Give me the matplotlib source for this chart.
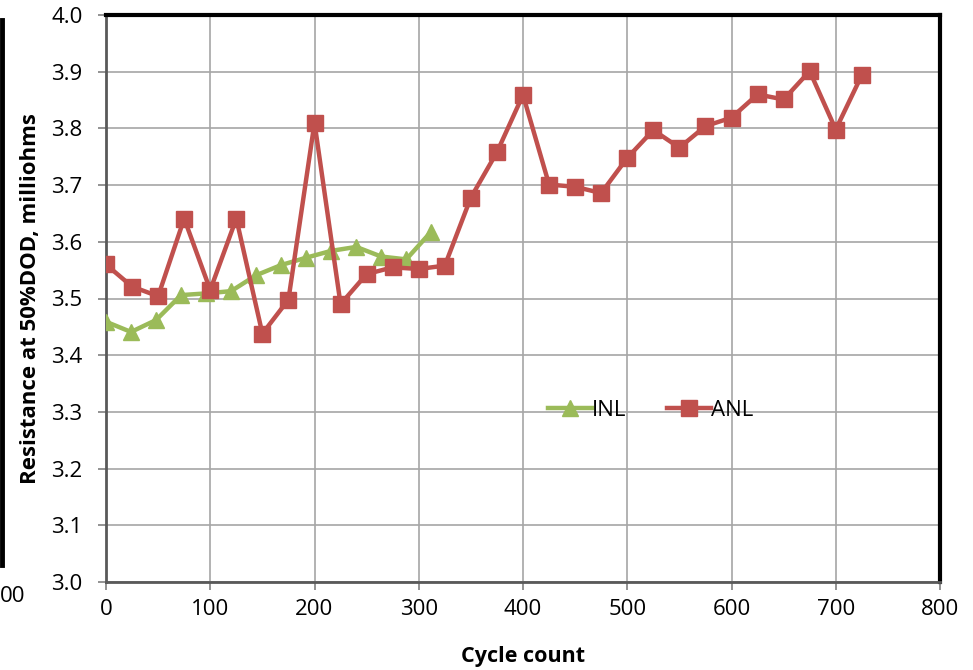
import matplotlib
matplotlib.use("Agg")
import matplotlib.pyplot as plt
from matplotlib.lines import Line2D

plt.rcParams['font.family'] = ['Open Sans', 'DejaVu Sans']

# Data
anl_x = [0, 25, 50, 75, 100, 125, 150, 175, 200, 225, 250, 275, 300, 325, 350,
         375, 400, 425, 450, 475, 500, 525, 550, 575, 600, 625, 650, 675, 700, 725]
anl_y = [3.560, 3.521, 3.504, 3.641, 3.515, 3.641, 3.438, 3.498, 3.810, 3.490,
         3.543, 3.555, 3.552, 3.558, 3.678, 3.758, 3.859, 3.701, 3.697, 3.686,
         3.748, 3.797, 3.766, 3.804, 3.819, 3.860, 3.851, 3.901, 3.798, 3.894]
inl_x = [0, 24, 48, 72, 96, 120, 144, 168, 192, 216, 240, 264, 288, 312]
inl_y = [3.459, 3.441, 3.462, 3.506, 3.509, 3.513, 3.541, 3.559, 3.572, 3.584,
         3.591, 3.574, 3.569, 3.618]
x_ticks = [0, 100, 200, 300, 400, 500, 600, 700, 800]
y_ticks = [3.0, 3.1, 3.2, 3.3, 3.4, 3.5, 3.6, 3.7, 3.8, 3.9, 4.0]

red = '#C0504D'
green = '#9BBB59'

fig = plt.figure(figsize=(9.73, 6.70), dpi=100)
ax = fig.add_axes([106/973, 1-582/670, (940-106)/973, (582-15)/670])

ax.plot(inl_x, inl_y, color=green, lw=3.2, marker='^', ms=12, mec=green, mfc=green,
        label='INL', zorder=3)
ax.plot(anl_x, anl_y, color=red, lw=3.2, marker='s', ms=12, mec=red, mfc=red,
        label='ANL', zorder=4)

ax.set_xlim(0, 800)
ax.set_ylim(3.0, 4.0)
ax.set_xticks(x_ticks)
ax.set_yticks(y_ticks)
ax.set_yticklabels([f'{v:.1f}' for v in y_ticks])
ax.grid(True, color='#A6A6A6', lw=1.2)
ax.set_axisbelow(True)

for s in ['left', 'bottom']:
    ax.spines[s].set_color('#595959')
    ax.spines[s].set_linewidth(2)
for s in ['top', 'right']:
    ax.spines[s].set_color('black')
    ax.spines[s].set_linewidth(3)

ax.tick_params(axis='both', direction='out', length=6, width=1.2, color='#808080',
               labelsize=16, labelcolor='black')
ax.tick_params(axis='x', pad=6)
ax.tick_params(axis='y', pad=11)

ax.set_xlabel('Cycle count', fontsize=15.5, fontweight='bold', labelpad=19)
ax.set_ylabel('Resistance at 50%DOD, milliohms', fontsize=16, fontweight='bold', labelpad=7)

ax.legend(loc='center', bbox_to_anchor=(0.653, 0.303), ncol=2, frameon=False,
          fontsize=16, handlelength=2.0, columnspacing=1.8, handletextpad=0.0,
          borderaxespad=0, borderpad=0)

# Cropped artifacts at left edge of the reference image
fig.add_artist(Line2D([2/973, 2/973], [1-20/670, 1-565/670], color='black', lw=3.5,
                      transform=fig.transFigure))
fig.text(0.0, 1-596/670, '00', fontsize=16, va='center', ha='left')

fig.savefig('out.png', dpi=100)
